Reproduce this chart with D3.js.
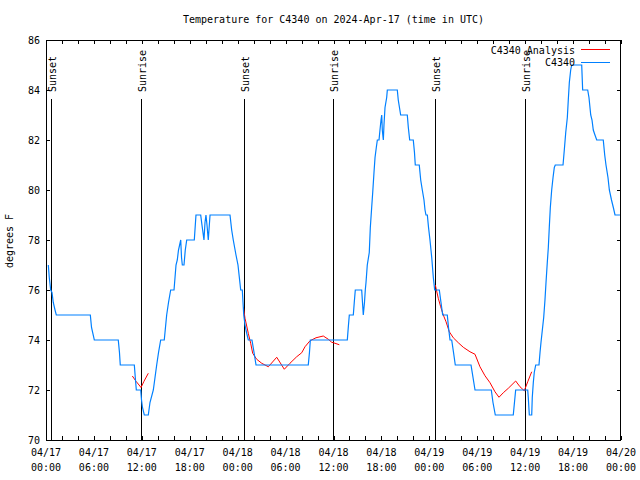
<!DOCTYPE html>
<html><head><meta charset="utf-8">
<script src="https://cdn.jsdelivr.net/npm/d3@7"></script>
<style>
body{margin:0;background:#fff}
text{font-family:"DejaVu Sans Mono","Liberation Mono",monospace;font-size:10px;fill:#000}
</style>
</head><body><svg id="c" width="640" height="480"></svg>
<script>
const titleText = "Temperature for C4340 on 2024-Apr-17 (time in UTC)";
const yLabelText = "degrees F";
const startTime = Date.UTC(2024, 3, 17, 0, 0);
const spanHours = 72;

// Observations (hours after 04/17 00:00 UTC, degrees F)
const obsHours = [0.29,0.41,0.59,0.75,0.91,1.13,1.29,
5.55,5.70,6.05, 9.05,9.20,9.30, 11.06,11.18,11.31, 11.86,11.96,12.08,12.31,
12.81,13.02,13.44,13.65,13.86,14.09,14.36, 14.81,15.11,15.34,15.61,
16.03,16.28,16.44,16.59,16.87,16.97,17.07,17.28,17.44,17.62, 18.57,18.78,
19.37,19.53,19.78,19.91,20.03,20.16,20.32,20.54,
23.04,23.25,23.45,23.79,24.04,24.38, 24.58,24.76,24.92,25.11,25.33,
25.79,26.05,26.30, 32.84,32.99,33.10, 37.73,37.85,37.98, 38.48,38.60,38.73,
39.53,39.63,39.73,39.88,39.98,
40.07,40.23,40.48,40.61,40.78,40.91,41.07,41.20,41.36,41.49,
41.70,41.82,41.95,42.04,42.11,42.24,42.32,42.45,42.66,42.74,
43.99,44.11,44.41, 45.24,45.37,45.54, 45.99,46.14,46.24,
46.74,46.92,47.12,47.33,47.46,47.58, 47.75,47.90,48.08,48.30,48.50,48.67,
49.25,49.46,49.67, 50.25,50.40,50.59, 50.80,51.03,51.25, 53.22,53.47,53.72,
55.76,55.97,56.26, 58.51,58.66,58.81, 60.32,60.39,60.52,
60.82,60.89,61.02,61.14,61.32,
61.73,61.86,61.98,62.15,62.32,62.48,62.61,62.77,62.90,63.02,63.15,63.32,63.49,63.65,63.77,
64.74,64.90,65.08,65.28,65.40,65.53,65.70,65.83, 67.08,67.20,
67.83,67.99,68.21,68.37,68.53,68.74,68.96,
69.78,69.96,70.12,70.37,70.54,70.81,71.04,71.25, 71.87];
const obsTemps = [77,76.5,76,75.9,75.5,75.2,75,
75,74.5,74, 74,73.5,73, 73,72.5,72, 72,71.6,71.3,71,
71,71.5,72,72.5,73,73.5,74, 74,75,75.5,76,
76,77,77.2,77.6,78,77.3,77,77,77.6,78, 78,79,
79,78.6,78,78.7,79,78.6,78,79,
79,78.4,78,77.4,77,76, 76,75,74.6,74.3,74,
74,73.5,73, 73,73.5,74, 74,74.5,75, 75,75.5,76,
76,75.5,75,75.5,76,
76.3,77,77.5,78.5,79.3,79.9,80.7,81.3,81.7,82,
82,82.4,82.8,83,82.4,82,82.6,83.3,83.7,84,
84,83.6,83, 83,82.5,82, 82,81.5,81,
81,80.4,80,79.6,79.2,79, 79,78.5,78,77.3,76.5,76,
76,75.5,75, 75,74.5,74, 74,73.5,73, 73,72.5,72,
72,71.5,71, 71,71.5,72, 72,71.7,71,
71,71.7,72.3,72.7,73,
73,73.5,73.9,74.4,74.9,75.6,76.3,77.1,77.7,78.5,79.3,80,80.5,80.9,81,
81,81.6,82.3,82.9,83.6,84.3,84.8,85, 85,84,
84,83.7,83,82.8,82.4,82.2,82,
82,81.4,81,80.5,80,79.6,79.3,79, 79];

// Analysis segments
const anaHours1 = [10.81,11.27,11.65,11.90,12.27,12.81];
const anaTemps1 = [72.56,72.35,72.2,72.1,72.35,72.67];
const anaHours2 = [24.73,24.92,25.33,25.63,25.88,26.38,27.01,27.84,28.89,29.84,30.55,31.39,32.02,32.43,33.06,33.81,34.72,35.35,35.78,36.19,36.73];
const anaTemps2 = [75.3,74.87,74.27,73.87,73.47,73.23,73.07,72.93,73.31,72.83,73.07,73.33,73.49,73.73,73.97,74.09,74.16,74.03,73.91,73.87,73.81];
const anaHours3 = [48.75,49.12,49.42,49.75,50.09,50.50,51.00,51.63,52.25,53.09,53.72,54.34,54.97,55.60,56.22,56.72,57.26,57.89,58.81,59.35,59.89,60.32,60.82];
const anaTemps3 = [76.2,75.67,75.33,75.0,74.73,74.33,74.09,73.89,73.71,73.53,73.43,72.93,72.57,72.29,71.93,71.71,71.89,72.07,72.36,72.13,71.97,72.33,72.73];

const sunNames = ["Sunset","Sunrise","Sunset","Sunrise","Sunset","Sunrise"];
const sunHours = [0.63,11.95,24.75,35.88,48.75,59.93];

const yTicks = [70,72,74,76,78,80,82,84,86];
const xTickHours = d3.range(0, 73, 2);
const xLabelHours = [0,6,12,18,24,30,36,42,48,54,60,66,72];

const seriesNames = ["C4340 Analysis","C4340"];
const seriesColors = ["#ff0000","#0080ff"];

const toDate = h => new Date(startTime + h*3600e3);
const svg = d3.select("#c");
const L=46, R=621, T=40, B=440;
const x = d3.scaleUtc().domain([toDate(0), toDate(spanHours)]).range([L, R]);
const y = d3.scaleLinear().domain([70, 86]).range([B, T]);

// title
svg.append("text").attr("x", 333.5).attr("y", 23).attr("text-anchor","middle").text(titleText);
// y label
svg.append("text").attr("transform","translate(13,241) rotate(-90)").attr("text-anchor","middle").text(yLabelText);

// axes ticks (inward, mirrored)
const g = svg.append("g").attr("shape-rendering","crispEdges");
g.append("g").attr("transform",`translate(0,${B})`)
  .call(d3.axisBottom(x).tickValues(xTickHours.map(toDate)).tickSizeInner(-4).tickSizeOuter(0).tickFormat(""));
g.append("g").attr("transform",`translate(0,${T})`)
  .call(d3.axisTop(x).tickValues(xTickHours.map(toDate)).tickSizeInner(-4).tickSizeOuter(0).tickFormat(""));
g.append("g").attr("transform",`translate(${L},0)`)
  .call(d3.axisLeft(y).tickValues(yTicks).tickSizeInner(-4).tickSizeOuter(0).tickFormat(""));
g.append("g").attr("transform",`translate(${R},0)`)
  .call(d3.axisRight(y).tickValues(yTicks).tickSizeInner(-4).tickSizeOuter(0).tickFormat(""));
g.selectAll(".domain").remove();
g.selectAll("line").attr("stroke","#000");

// tick labels
const fmtD = d3.utcFormat("%m/%d"), fmtT = d3.utcFormat("%H:%M");
xLabelHours.forEach(h => {
  const d = toDate(h);
  svg.append("text").attr("x", x(d)).attr("y", 456).attr("text-anchor","middle").text(fmtD(d));
  svg.append("text").attr("x", x(d)).attr("y", 471).attr("text-anchor","middle").text(fmtT(d));
});
yTicks.forEach(v => {
  svg.append("text").attr("x", 40).attr("y", y(v)+3.5).attr("text-anchor","end").text(v);
});

// sun lines
sunHours.forEach((h,i) => {
  const px = Math.round(x(toDate(h)))+0.5;
  svg.append("line").attr("x1",px).attr("x2",px).attr("y1",99).attr("y2",B)
    .attr("stroke","#000").attr("stroke-width",1).attr("shape-rendering","crispEdges");
  svg.append("text").attr("transform",`translate(${px+1},92) rotate(-90)`)
    .attr("dy","0.35em").attr("text-anchor","start").text(sunNames[i]);
});

// data lines
const line = d3.line().x(d => x(toDate(d[0]))).y(d => y(d[1]));
const zip = (a,b) => a.map((v,i)=>[v,b[i]]);
[[anaHours1,anaTemps1],[anaHours2,anaTemps2],[anaHours3,anaTemps3]].forEach(([h,t]) => {
  svg.append("path").attr("d", line(zip(h,t))).attr("fill","none")
    .attr("stroke", seriesColors[0]).attr("stroke-width",1);
});
svg.append("path").attr("d", line(zip(obsHours,obsTemps))).attr("fill","none")
  .attr("stroke", seriesColors[1]).attr("stroke-width",1.2);

// border
svg.append("rect").attr("x",L+0.5).attr("y",T+0.5).attr("width",R-L-1).attr("height",B-T)
  .attr("fill","none").attr("stroke","#000").attr("shape-rendering","crispEdges");

// legend
const legY = [50, 62.5];
seriesNames.forEach((n,i) => {
  svg.append("text").attr("x",575).attr("y",legY[i]+3.5).attr("text-anchor","end").text(n);
  svg.append("line").attr("x1",581).attr("x2",610).attr("y1",Math.round(legY[i])-0.5).attr("y2",Math.round(legY[i])-0.5)
    .attr("stroke",seriesColors[i]).attr("stroke-width",1);
});
</script></body></html>
